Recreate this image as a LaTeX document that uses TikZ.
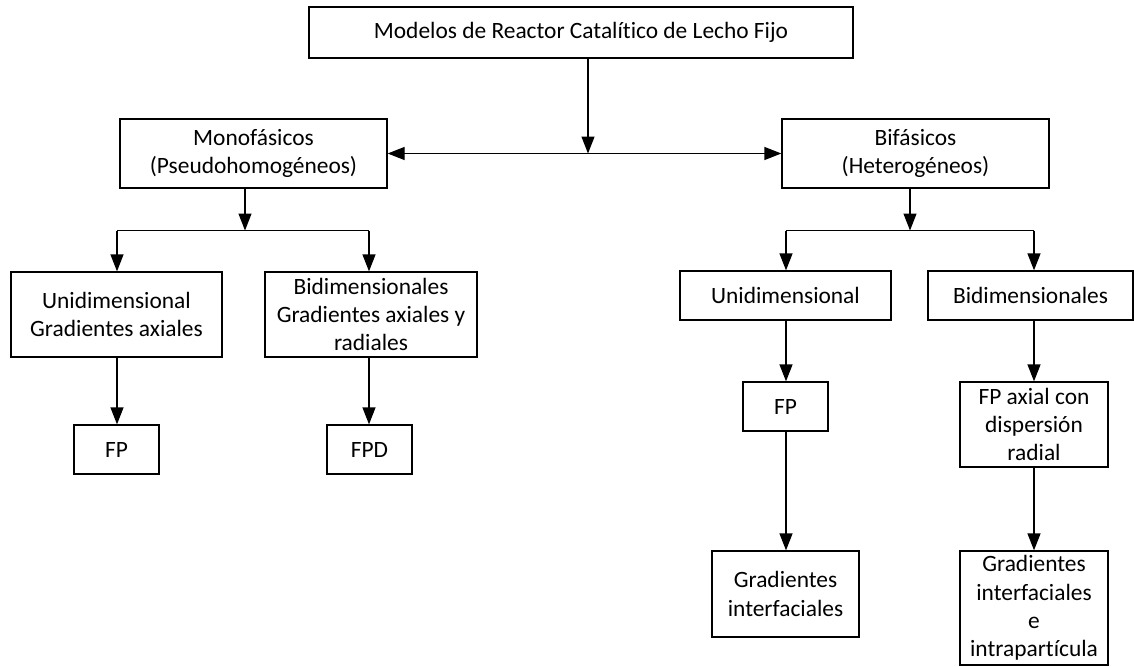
\documentclass[tikz,border=0pt]{standalone}
\usepackage{fontspec}
\setmainfont{Carlito}[Ligatures=NoCommon]
\usetikzlibrary{arrows.meta}
\tikzset{
  box/.style={draw=black, line width=1.3pt, fill=white, inner sep=0pt, align=center,
    font=\fontsize{23.4}{28.3}\selectfont},
  arr/.style={line width=1.3pt, -{Triangle[length=17pt,width=13pt]}},
  darr/.style={line width=1.3pt, {Triangle[length=17pt,width=13pt]}-{Triangle[length=17pt,width=13pt]}},
  ln/.style={line width=1.3pt}
}
\begin{document}
\begin{tikzpicture}[x=1pt,y=-1pt]
\useasboundingbox (0,0) rectangle (1134,666);
% nodes
\node[box, minimum width=544pt, minimum height=51pt] (top) at (581,32.5) {Modelos de Reactor Catalítico de Lecho Fijo};
\node[box, minimum width=267pt, minimum height=69pt] (mono) at (253.5,153.5) {Monofásicos\\(Pseudohomogéneos)};
\node[box, minimum width=267pt, minimum height=69pt] (bi) at (915.5,153.5) {Bifásicos\\(Heterogéneos)};
\node[box, minimum width=211pt, minimum height=85pt] (ul) at (116.5,314.5) {Unidimensional\\Gradientes axiales};
\node[box, minimum width=212pt, minimum height=85pt] (bl) at (371,314.5) {Bidimensionales\\Gradientes axiales y\\radiales};
\node[box, minimum width=85pt, minimum height=49pt] (fpa1) at (116.5,449.5) {FP};
\node[box, minimum width=85pt, minimum height=49pt] (fpd) at (369.5,449.5) {FPD};
\node[box, minimum width=211pt, minimum height=49pt] (ur) at (785.5,295.5) {Unidimensional};
\node[box, minimum width=205pt, minimum height=49pt] (br) at (1030.5,295.5) {Bidimensionales};
\node[box, minimum width=85pt, minimum height=49pt] (fpb) at (785.5,406.5) {FP};
\node[box, minimum width=148pt, minimum height=85pt] (fpax) at (1034,424.5) {FP axial con\\dispersión\\radial};
\node[box, minimum width=147pt, minimum height=86pt] (gi) at (785.5,594) {Gradientes\\interfaciales};
\node[box, minimum width=148pt, minimum height=114pt] (gie) at (1034,608) {Gradientes\\interfaciales\\e\\intrapartícula};
% junctions
\coordinate (j0) at (588,153.5);
\coordinate (j1) at (245,230.5);
\coordinate (j2) at (910,230.5);
\coordinate (cl) at (117,0);
\coordinate (cr) at (369,0);
\coordinate (dl) at (786,0);
\coordinate (dr) at (1034,0);
% connectors
\draw[arr] (top.south -| j0) -- (j0);
\draw[darr] (mono.east) -- (bi.west);
\draw[arr] (mono.south -| j1) -- (j1);
\draw[ln] (j1 -| cl) -- (j1 -| cr);
\draw[arr] (j1 -| cl) -- (ul.north -| cl);
\draw[arr] (j1 -| cr) -- (bl.north -| cr);
\draw[arr] (ul.south -| cl) -- (fpa1.north -| cl);
\draw[arr] (bl.south -| cr) -- (fpd.north -| cr);
\draw[arr] (bi.south -| j2) -- (j2);
\draw[ln] (j2 -| dl) -- (j2 -| dr);
\draw[arr] (j2 -| dl) -- (ur.north -| dl);
\draw[arr] (j2 -| dr) -- (br.north -| dr);
\draw[arr] (ur.south -| dl) -- (fpb.north -| dl);
\draw[arr] (br.south -| dr) -- (fpax.north -| dr);
\draw[arr] (fpb.south -| dl) -- (gi.north -| dl);
\draw[arr] (fpax.south -| dr) -- (gie.north -| dr);
\end{tikzpicture}
\end{document}
